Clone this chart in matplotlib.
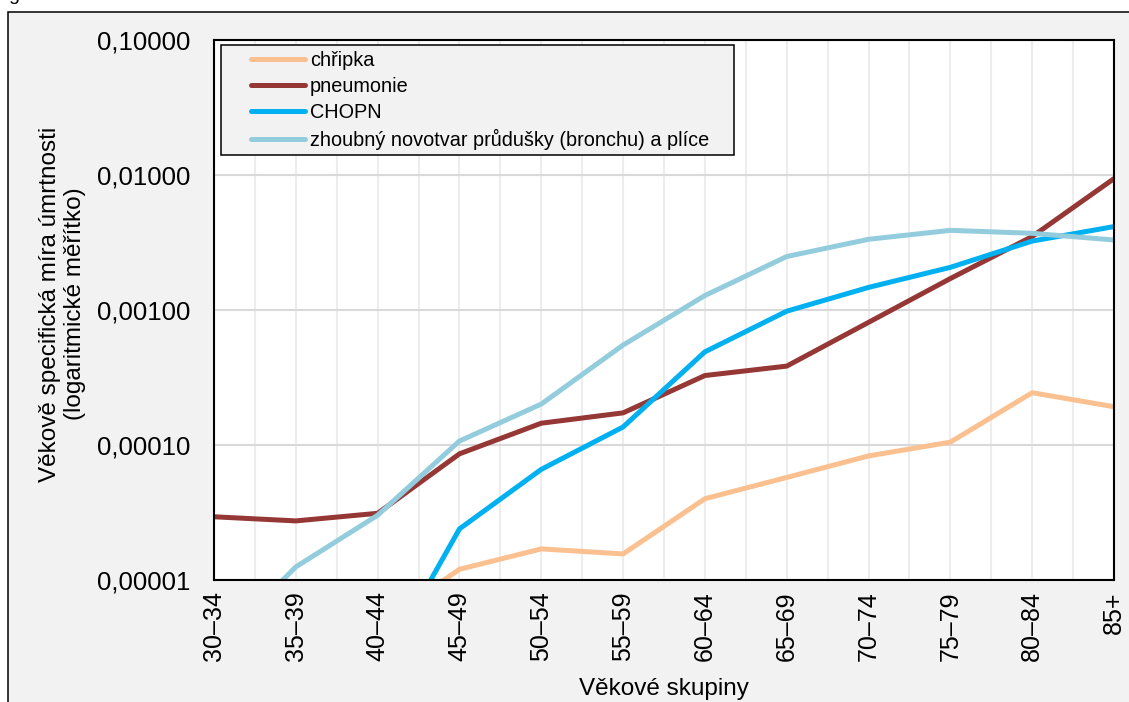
import numpy as np
import matplotlib
matplotlib.use("Agg")
import matplotlib.pyplot as plt
from matplotlib.patches import Rectangle
from matplotlib.ticker import FuncFormatter, MultipleLocator, FixedLocator, NullLocator
from matplotlib.legend_handler import HandlerLine2D

plt.rcParams["font.family"] = ["Liberation Sans", "DejaVu Sans"]

# ── data ─────────────────────────────────────────────────────────────────────
ages = ["30–34", "35–39", "40–44", "45–49", "50–54", "55–59",
        "60–64", "65–69", "70–74", "75–79", "80–84", "85+"]

chripka   = [np.nan, np.nan, 4.6e-6, 1.2e-5, 1.7e-5, 1.56e-5,
             4.0e-5, 5.75e-5, 8.3e-5, 1.05e-4, 2.44e-4, 1.92e-4]
pneumonie = [2.94e-5, 2.74e-5, 3.12e-5, 8.6e-5, 1.45e-4, 1.73e-4,
             3.27e-4, 3.84e-4, 8.1e-4, 1.71e-3, 3.5e-3, 9.4e-3]
chopn     = [np.nan, np.nan, 2.0e-6, 2.39e-5, 6.6e-5, 1.36e-4,
             4.9e-4, 9.8e-4, 1.47e-3, 2.07e-3, 3.24e-3, 4.15e-3]
plice     = [3.1e-6, 1.25e-5, 3.02e-5, 1.07e-4, 2.01e-4, 5.5e-4,
             1.28e-3, 2.49e-3, 3.34e-3, 3.89e-3, 3.7e-3, 3.3e-3]

series = [
    ("chřipka", chripka, "#FAC090"),
    ("pneumonie", pneumonie, "#953735"),
    ("CHOPN", chopn, "#00B0F0"),
    ("zhoubný novotvar průdušky (bronchu) a plíce", plice, "#93CDDD"),
]

# ── figure ───────────────────────────────────────────────────────────────────
W, H = 1129, 702
fig = plt.figure(figsize=(W / 100, H / 100), dpi=100, facecolor="white")

# outer chart frame (grey area with black border)
frame = Rectangle((8 / W, -0.02), 1.05, 1 - 12 / H + 0.02, transform=fig.transFigure,
                  facecolor="#F2F2F2", edgecolor="black", lw=1.1, zorder=-10)
fig.patches.append(frame)
fig.text(8 / W, 1.0, "g", fontsize=14, va="baseline", ha="left")

ax = fig.add_axes([214 / W, (H - 580) / H, (1114 - 214) / W, (580 - 40) / H])
ax.set_facecolor("white")

x = np.arange(len(ages))
for name, vals, col in series:
    ax.plot(x, vals, color=col, lw=3.6, label=name,
            solid_capstyle="round", solid_joinstyle="round", zorder=3)

ax.set_yscale("log")
ax.set_ylim(1e-5, 1e-1)
ax.set_xlim(0, len(ages) - 1)
ax.yaxis.set_major_locator(FixedLocator([1e-5, 1e-4, 1e-3, 1e-2, 1e-1]))
ax.yaxis.set_minor_locator(NullLocator())
ax.yaxis.set_major_formatter(FuncFormatter(lambda v, p: f"{v:.5f}".replace(".", ",")))

ax.set_xticks(x)
ax.set_xticklabels(ages, rotation=90, fontsize=18)
ax.xaxis.set_minor_locator(MultipleLocator(0.5))
ax.tick_params(axis="y", labelsize=18.5, length=0, pad=17)
ax.tick_params(axis="x", which="both", length=0, pad=8)

ax.grid(axis="y", which="major", color="#D9D9D9", lw=1.5, zorder=0)
ax.grid(axis="x", which="both", color="#EDEDED", lw=1.5, zorder=0)
for s in ax.spines.values():
    s.set_color("black")
    s.set_linewidth(1.5)
    s.set_zorder(5)

ax.set_xlabel("Věkové skupiny", fontsize=17.5)
ax.xaxis.set_label_coords(0.5, (580 - 678) / 540)
ax.set_ylabel("Věkově specifická míra úmrtnosti\n(logaritmické měřítko)",
              fontsize=17.5, linespacing=1.2)
ax.yaxis.set_label_coords((86 - 214) / 900, (580 - 304) / 540)

# legend box drawn by hand, entries placed inside
lx0, lx1, ly0, ly1 = 220.7, 734, 45, 155
box = Rectangle(((lx0 - 214) / 900, (580 - ly1) / 540),
                (lx1 - lx0) / 900, (ly1 - ly0) / 540, transform=ax.transAxes,
                facecolor="#F2F2F2", edgecolor="black", lw=1.1, zorder=6)
ax.add_patch(box)
leg = ax.legend(loc="upper left", bbox_to_anchor=((lx0 - 214) / 900, (580 - ly0) / 540),
                frameon=False, fontsize=14.3, borderaxespad=0, borderpad=0.3,
                handlelength=3.94, handletextpad=0.25, labelspacing=0.35,
                handler_map={plt.Line2D: HandlerLine2D(xpad=1.23)})
leg.set_zorder(7)

fig.savefig("out.png", dpi=100, facecolor="white")
